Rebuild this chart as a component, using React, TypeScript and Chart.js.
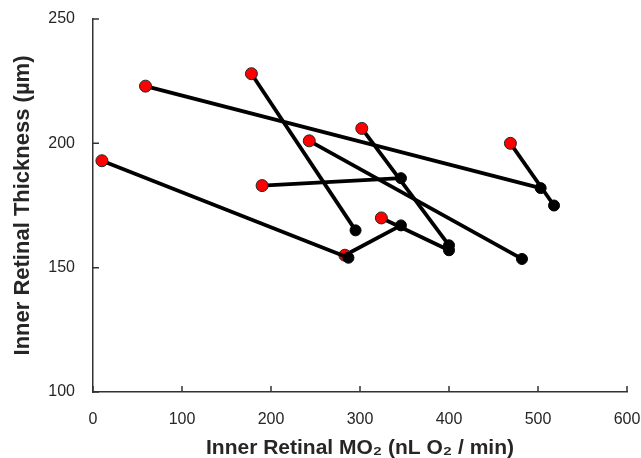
import React, { useEffect, useRef } from "react";
import { Chart, registerables } from "chart.js";

Chart.register(...registerables);

// Paired measurements: red = first condition, black = second condition
const redX = [10, 59, 178, 243, 302, 190, 324, 283, 469];
const redY = [193, 223, 228, 201, 206, 183, 170, 155, 200];
const blackX = [287, 503, 295, 482, 400, 346, 400, 346, 518];
const blackY = [154, 182, 165, 153.5, 159, 186, 157, 167, 175];

const xTicks = [0, 100, 200, 300, 400, 500, 600];
const yTicks = [100, 150, 200, 250];

const xTitle = "Inner Retinal MO₂ (nL O₂ / min)";
const yTitle = "Inner Retinal Thickness (µm)";

const FONT = "'Liberation Sans', Arial, sans-serif";
const AXIS_COLOR = "#333333";

const innerTicks = {
  id: "innerTicks",
  afterDraw(chart: any) {
    const { ctx, chartArea, scales } = chart;
    ctx.save();
    ctx.strokeStyle = AXIS_COLOR;
    ctx.lineWidth = 1.5;
    ctx.beginPath();
    for (const v of xTicks) {
      const px = scales.x.getPixelForValue(v);
      ctx.moveTo(px, chartArea.bottom);
      ctx.lineTo(px, chartArea.bottom - 6);
    }
    for (const v of yTicks) {
      const py = scales.y.getPixelForValue(v);
      ctx.moveTo(chartArea.left, py);
      ctx.lineTo(chartArea.left + 6, py);
    }
    ctx.stroke();
    ctx.restore();
  },
};

export default function App() {
  const ref = useRef<HTMLCanvasElement | null>(null);

  useEffect(() => {
    if (!ref.current) return;
    const datasets = redX.map((_, i) => ({
      data: [
        { x: redX[i], y: redY[i] },
        { x: blackX[i], y: blackY[i] },
      ],
      showLine: true,
      borderColor: "#000000",
      borderWidth: 3.8,
      pointRadius: [6, 5.5],
      pointBackgroundColor: ["#ff0000", "#000000"],
      pointBorderColor: ["#1a2a2a", "#000000"],
      pointBorderWidth: 1,
    }));

    const chart = new Chart(ref.current, {
      type: "scatter",
      data: { datasets },
      plugins: [innerTicks],
      options: {
        animation: false,
        responsive: false,
        maintainAspectRatio: false,
        layout: { padding: { top: 19, right: 14, left: 0, bottom: 0 } },
        plugins: {
          legend: { display: false },
          tooltip: { enabled: false },
        },
        scales: {
          x: {
            type: "linear",
            min: 0,
            max: 600,
            afterBuildTicks: (s: any) => {
              s.ticks = xTicks.map((v) => ({ value: v }));
            },
            afterFit: (s: any) => {
              s.height = 66;
              s.paddingLeft = 0;
              s.paddingRight = 0;
            },
            grid: { display: false },
            border: { display: true, color: AXIS_COLOR, width: 1.5 },
            ticks: {
              color: "#262626",
              font: { family: FONT, size: 16 },
              padding: 10,
              maxRotation: 0,
            },
            title: {
              display: true,
              text: xTitle,
              color: "#262626",
              font: { family: FONT, size: 21, weight: "bold" },
              padding: { top: 0, bottom: -3 },
            },
          },
          y: {
            type: "linear",
            min: 100,
            max: 250,
            afterBuildTicks: (s: any) => {
              s.ticks = yTicks.map((v) => ({ value: v }));
            },
            afterFit: (s: any) => {
              s.width = 93;
              s.paddingTop = 0;
              s.paddingBottom = 0;
            },
            grid: { display: false },
            border: { display: true, color: AXIS_COLOR, width: 1.5 },
            ticks: {
              color: "#262626",
              font: { family: FONT, size: 16 },
              padding: 10,
            },
            title: {
              display: true,
              text: yTitle,
              color: "#262626",
              font: { family: FONT, size: 22, weight: "bold" },
              padding: { top: 10, bottom: 0 },
            },
          },
        },
      },
    });
    return () => chart.destroy();
  }, []);

  return (
    <div style={{ position: "fixed", left: 0, top: 0, width: 641, height: 458, background: "#fff" }}>
      <canvas ref={ref} width={641} height={458} style={{ width: 641, height: 458 }} />
    </div>
  );
}
